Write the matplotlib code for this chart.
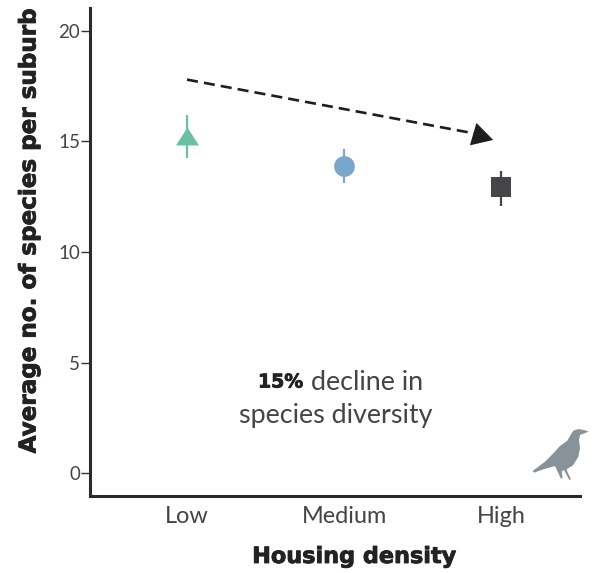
import matplotlib
matplotlib.use('Agg')
import matplotlib.pyplot as plt
import matplotlib.patheffects as pe
from matplotlib.patches import Polygon

plt.rcParams['font.family'] = 'Lato'

categories = ['Low', 'Medium', 'High']
means = [15.27, 13.9, 12.95]
err_low = [14.25, 13.1, 12.1]
err_high = [16.2, 14.66, 13.66]
markers = [[(-1, -0.78), (1, -0.78), (0, 0.78)], 'o', 's']
colors = ['#6bbfa3', '#7aa6c9', '#464547']
sizes = [275, 222, 193]
y_ticks = [0, 5, 10, 15, 20]

# outline of the bird, in pixels of the picture
bird_x = [236, 222, 205, 190, 180, 172, 150, 130, 105, 68, 72, 100, 135, 143, 152, 158, 155, 162, 170, 178, 183, 172, 170, 190, 205, 210, 207, 210]
bird_y = [65, 60, 57, 62, 78, 92, 108, 130, 155, 183, 188, 178, 168, 185, 205, 205, 185, 180, 195, 210, 208, 185, 178, 165, 140, 115, 90, 75]

fig = plt.figure(figsize=(5.95, 5.73), dpi=100)
ax = fig.add_axes([90 / 595, 1 - 496 / 573, 490 / 595, 488 / 573])

for i in range(len(categories)):
    ax.plot([i, i], [err_low[i], err_high[i]], color=colors[i], lw=1.6, solid_capstyle='butt', zorder=2)
    ax.scatter(i, means[i], marker=markers[i], s=sizes[i], color=colors[i], linewidths=0, zorder=3)

# flecha de tendencia
ax.plot([0, 1.84], [17.8, 15.35], color='#1f1d1e', lw=1.9, dashes=(4.2, 2.3), dash_capstyle='butt', zorder=2)
ax.annotate('', xy=(1.95, 15.07), xytext=(1.80, 15.38),
            arrowprops=dict(arrowstyle='-|>,head_length=0.75,head_width=0.42', color='#1f1d1e', lw=0,
                            shrinkA=0, shrinkB=0, mutation_scale=20))

ax.set_xlim(-0.618, 2.503)
ax.set_ylim(-1.04, 21.04)
ax.set_xticks(range(len(categories)))
ax.set_xticklabels(categories, fontsize=16.9, color='#444444')
ax.set_yticks(y_ticks)
ax.tick_params(axis='x', length=0, pad=7)
ax.tick_params(axis='y', length=6.5, width=1, color='#333333', labelsize=13.5, labelcolor='#444444', pad=0.5)

for side in ['top', 'right']:
    ax.spines[side].set_visible(False)
for side in ['left', 'bottom']:
    ax.spines[side].set_linewidth(2.2)
    ax.spines[side].set_color('#2b2a2b')

heavy = [pe.withStroke(linewidth=0.6, foreground='#222222')]
fig.text(29 / 595, 1 - 232 / 573, 'Average no. of species per suburb', rotation=90, ha='center', va='center',
         fontsize=16.6, fontweight='bold', family='DejaVu Sans', color='#222222', path_effects=heavy)
fig.text(354 / 595, 1 - 557 / 573, 'Housing density', ha='center', va='center',
         fontsize=16.1, fontweight='bold', family='DejaVu Sans', color='#222222', path_effects=heavy)

fig.text(258 / 595, 1 - 382 / 573, '15%', ha='left', va='center', fontsize=13.6, fontweight='bold', family='DejaVu Sans',
         color='#222222', path_effects=heavy)
fig.text(311 / 595, 1 - 382 / 573, 'decline in', ha='left', va='center', fontsize=19.4, color='#444444')
fig.text(336 / 595, 1 - 415 / 573, 'species diversity', ha='center', va='center', fontsize=19.4, color='#444444')

bird = [((510 + x / 3) / 595, 1 - (410 + y / 3) / 573) for x, y in zip(bird_x, bird_y)]
fig.add_artist(Polygon(bird, closed=True, transform=fig.transFigure, facecolor='#8a9299', edgecolor='none'))

fig.savefig('out.png', dpi=100)
